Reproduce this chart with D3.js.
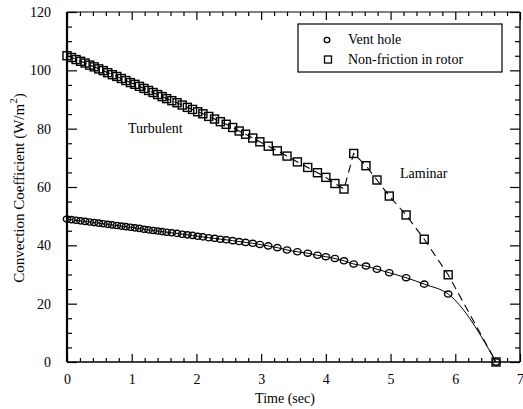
<!DOCTYPE html>
<html>
<head>
<meta charset="utf-8">
<script src="https://cdn.jsdelivr.net/npm/d3@7"></script>
<style>
  html, body { margin: 0; padding: 0; background: #fff; }
  svg { display: block; }
  text { font-family: "Liberation Serif", "Times New Roman", "DejaVu Serif", serif; fill: #000; }
</style>
</head>
<body>
<svg id="chart" width="523" height="409"></svg>
<script>
// ---- data ----
const timeSec = [0, 0.07, 0.14, 0.21, 0.28, 0.35, 0.42, 0.49, 0.56, 0.63, 0.70, 0.77, 0.84, 0.91, 0.98,
  1.05, 1.12, 1.19, 1.26, 1.33, 1.40, 1.47, 1.54, 1.62, 1.70, 1.78, 1.86, 1.94, 2.02, 2.10, 2.19,
  2.28, 2.37, 2.46, 2.56, 2.66, 2.76, 2.87, 2.98, 3.11, 3.25, 3.40, 3.56, 3.72, 3.87, 4.00, 4.14,
  4.28, 4.43, 4.62, 4.79, 4.98, 5.24, 5.52, 5.89, 6.63];

const ventHole = [49.0, 48.8, 48.6, 48.4, 48.2, 48.0, 47.8, 47.6, 47.4, 47.2, 47.0, 46.8, 46.6, 46.4, 46.2,
  46.0, 45.8, 45.5, 45.3, 45.1, 44.9, 44.7, 44.5, 44.3, 44.1, 43.8, 43.6, 43.4, 43.1, 42.9, 42.6,
  42.4, 42.1, 41.9, 41.6, 41.3, 41.0, 40.7, 40.3, 39.8, 39.2, 38.4, 37.8, 37.3, 36.6, 36.1, 35.5,
  34.7, 33.6, 32.9, 31.8, 30.6, 28.9, 26.7, 23.3, 0.0];

const nonFriction = [105.0, 104.4, 103.7, 103.1, 102.5, 101.8, 101.2, 100.5, 99.9, 99.2, 98.5, 97.9, 97.2, 96.5, 95.8,
  95.2, 94.5, 93.8, 93.1, 92.4, 91.7, 91.0, 90.3, 89.6, 88.9, 88.1, 87.3, 86.6, 85.8, 85.1, 84.2,
  83.3, 82.4, 81.5, 80.4, 79.2, 78.1, 76.8, 75.5, 74.0, 72.4, 70.6, 68.6, 66.7, 64.9, 63.3, 61.2,
  59.3, 71.5, 67.3, 62.4, 56.9, 50.4, 42.1, 29.9, 0.0];

const xTicks = [0, 1, 2, 3, 4, 5, 6, 7];
const yTicks = [0, 20, 40, 60, 80, 100, 120];
const legendLabels = ["Vent hole", "Non-friction in rotor"];

// ---- layout ----
const L = 67, R = 520, T = 12, B = 362;
const FONT = '"Liberation Serif", "Times New Roman", "DejaVu Serif", serif';
const svg = d3.select("#chart");
const x = d3.scaleLinear().domain([0, 7]).range([L, R]);
const y = d3.scaleLinear().domain([0, 120]).range([B, T]);

const xMinor = d3.range(0, 7.001, 0.2).filter(v => Math.abs(v - Math.round(v)) > 1e-6);
const yMinor = d3.range(0, 120.001, 5).filter(v => v % 20 !== 0);

function styleAxis(g) {
  g.select(".domain").remove();
  g.selectAll("line").attr("stroke", "#000").attr("stroke-width", 1.2);
  g.selectAll("text").attr("font-size", 14).attr("font-family", FONT);
}

// bottom
svg.append("g").attr("transform", `translate(0,${B})`)
  .call(d3.axisBottom(x).tickValues(xTicks).tickSize(-8).tickPadding(12).tickFormat(d3.format("d")))
  .call(styleAxis);
svg.append("g").attr("transform", `translate(0,${B})`)
  .call(d3.axisBottom(x).tickValues(xMinor).tickSize(-4).tickFormat(""))
  .call(styleAxis);
// top
svg.append("g").attr("transform", `translate(0,${T})`)
  .call(d3.axisTop(x).tickValues(xTicks).tickSize(-8).tickFormat(""))
  .call(styleAxis);
svg.append("g").attr("transform", `translate(0,${T})`)
  .call(d3.axisTop(x).tickValues(xMinor).tickSize(-4).tickFormat(""))
  .call(styleAxis);
// left
svg.append("g").attr("transform", `translate(${L},0)`)
  .call(d3.axisLeft(y).tickValues(yTicks).tickSize(-10).tickPadding(16).tickFormat(d3.format("d")))
  .call(styleAxis);
svg.append("g").attr("transform", `translate(${L},0)`)
  .call(d3.axisLeft(y).tickValues(yMinor).tickSize(-5).tickFormat(""))
  .call(styleAxis);
// right
svg.append("g").attr("transform", `translate(${R},0)`)
  .call(d3.axisRight(y).tickValues(yTicks).tickSize(-10).tickFormat(""))
  .call(styleAxis);
svg.append("g").attr("transform", `translate(${R},0)`)
  .call(d3.axisRight(y).tickValues(yMinor).tickSize(-5).tickFormat(""))
  .call(styleAxis);

// frame
svg.append("line").attr("x1", L).attr("x2", R).attr("y1", T).attr("y2", T).attr("stroke", "#000").attr("stroke-width", 1);
svg.append("line").attr("x1", L).attr("x2", R).attr("y1", B).attr("y2", B).attr("stroke", "#000").attr("stroke-width", 1.6);
svg.append("line").attr("x1", R).attr("x2", R).attr("y1", T).attr("y2", B).attr("stroke", "#000").attr("stroke-width", 1.4);
svg.append("line").attr("x1", L).attr("x2", L).attr("y1", T).attr("y2", B).attr("stroke", "#000").attr("stroke-width", 2.2);

// axis titles
svg.append("text").attr("x", 285).attr("y", 403).attr("text-anchor", "middle")
  .attr("font-size", 14).attr("font-family", FONT).text("Time (sec)");
const yl = svg.append("text").attr("transform", "translate(24,188) rotate(-90)")
  .attr("text-anchor", "middle").attr("font-size", 15).attr("font-family", FONT);
yl.append("tspan").text("Convection Coefficient (W/m");
yl.append("tspan").attr("dy", -7).attr("font-size", 11).text("2");
yl.append("tspan").attr("dy", 7).text(")");

// lines
const pts1 = timeSec.map((t, i) => [t, ventHole[i]]);
const pts2 = timeSec.map((t, i) => [t, nonFriction[i]]);

svg.append("path").datum(pts1)
  .attr("fill", "none").attr("stroke", "#000").attr("stroke-width", 1)
  .attr("d", d3.line().x(d => x(d[0])).y(d => y(d[1])).curve(d3.curveMonotoneX));
svg.append("path").datum(pts2)
  .attr("fill", "none").attr("stroke", "#000").attr("stroke-width", 1.1)
  .attr("stroke-dasharray", "8,5")
  .attr("d", d3.line().x(d => x(d[0])).y(d => y(d[1])));

// markers
svg.append("g").selectAll("ellipse").data(pts1).join("ellipse")
  .attr("cx", d => x(d[0])).attr("cy", d => y(d[1]))
  .attr("rx", 3.7).attr("ry", 3.1)
  .attr("fill", "none").attr("stroke", "#000").attr("stroke-width", 1.4);
const s = 8;
svg.append("g").selectAll("rect").data(pts2).join("rect")
  .attr("x", d => x(d[0]) - s / 2).attr("y", d => y(d[1]) - s / 2)
  .attr("width", s).attr("height", s)
  .attr("fill", "none").attr("stroke", "#000").attr("stroke-width", 1.4);

// annotations
svg.append("text").attr("x", 128).attr("y", 133).attr("font-size", 14).attr("font-family", FONT).text("Turbulent");
svg.append("text").attr("x", 400).attr("y", 178).attr("font-size", 14).attr("font-family", FONT).text("Laminar");

// legend
svg.append("rect").attr("x", 298).attr("y", 24).attr("width", 204).attr("height", 48)
  .attr("fill", "#fff").attr("stroke", "#000").attr("stroke-width", 1.2);
svg.append("ellipse").attr("cx", 327).attr("cy", 40).attr("rx", 2.8).attr("ry", 2.6)
  .attr("fill", "none").attr("stroke", "#000").attr("stroke-width", 1.3);
svg.append("rect").attr("x", 328 - 3.5).attr("y", 59.5 - 3.5).attr("width", 7).attr("height", 7)
  .attr("fill", "none").attr("stroke", "#000").attr("stroke-width", 1.3);
svg.append("text").attr("x", 348).attr("y", 44).attr("font-size", 14).attr("font-family", FONT).text(legendLabels[0]);
svg.append("text").attr("x", 348).attr("y", 64).attr("font-size", 14).attr("font-family", FONT).text(legendLabels[1]);
</script>
</body>
</html>
